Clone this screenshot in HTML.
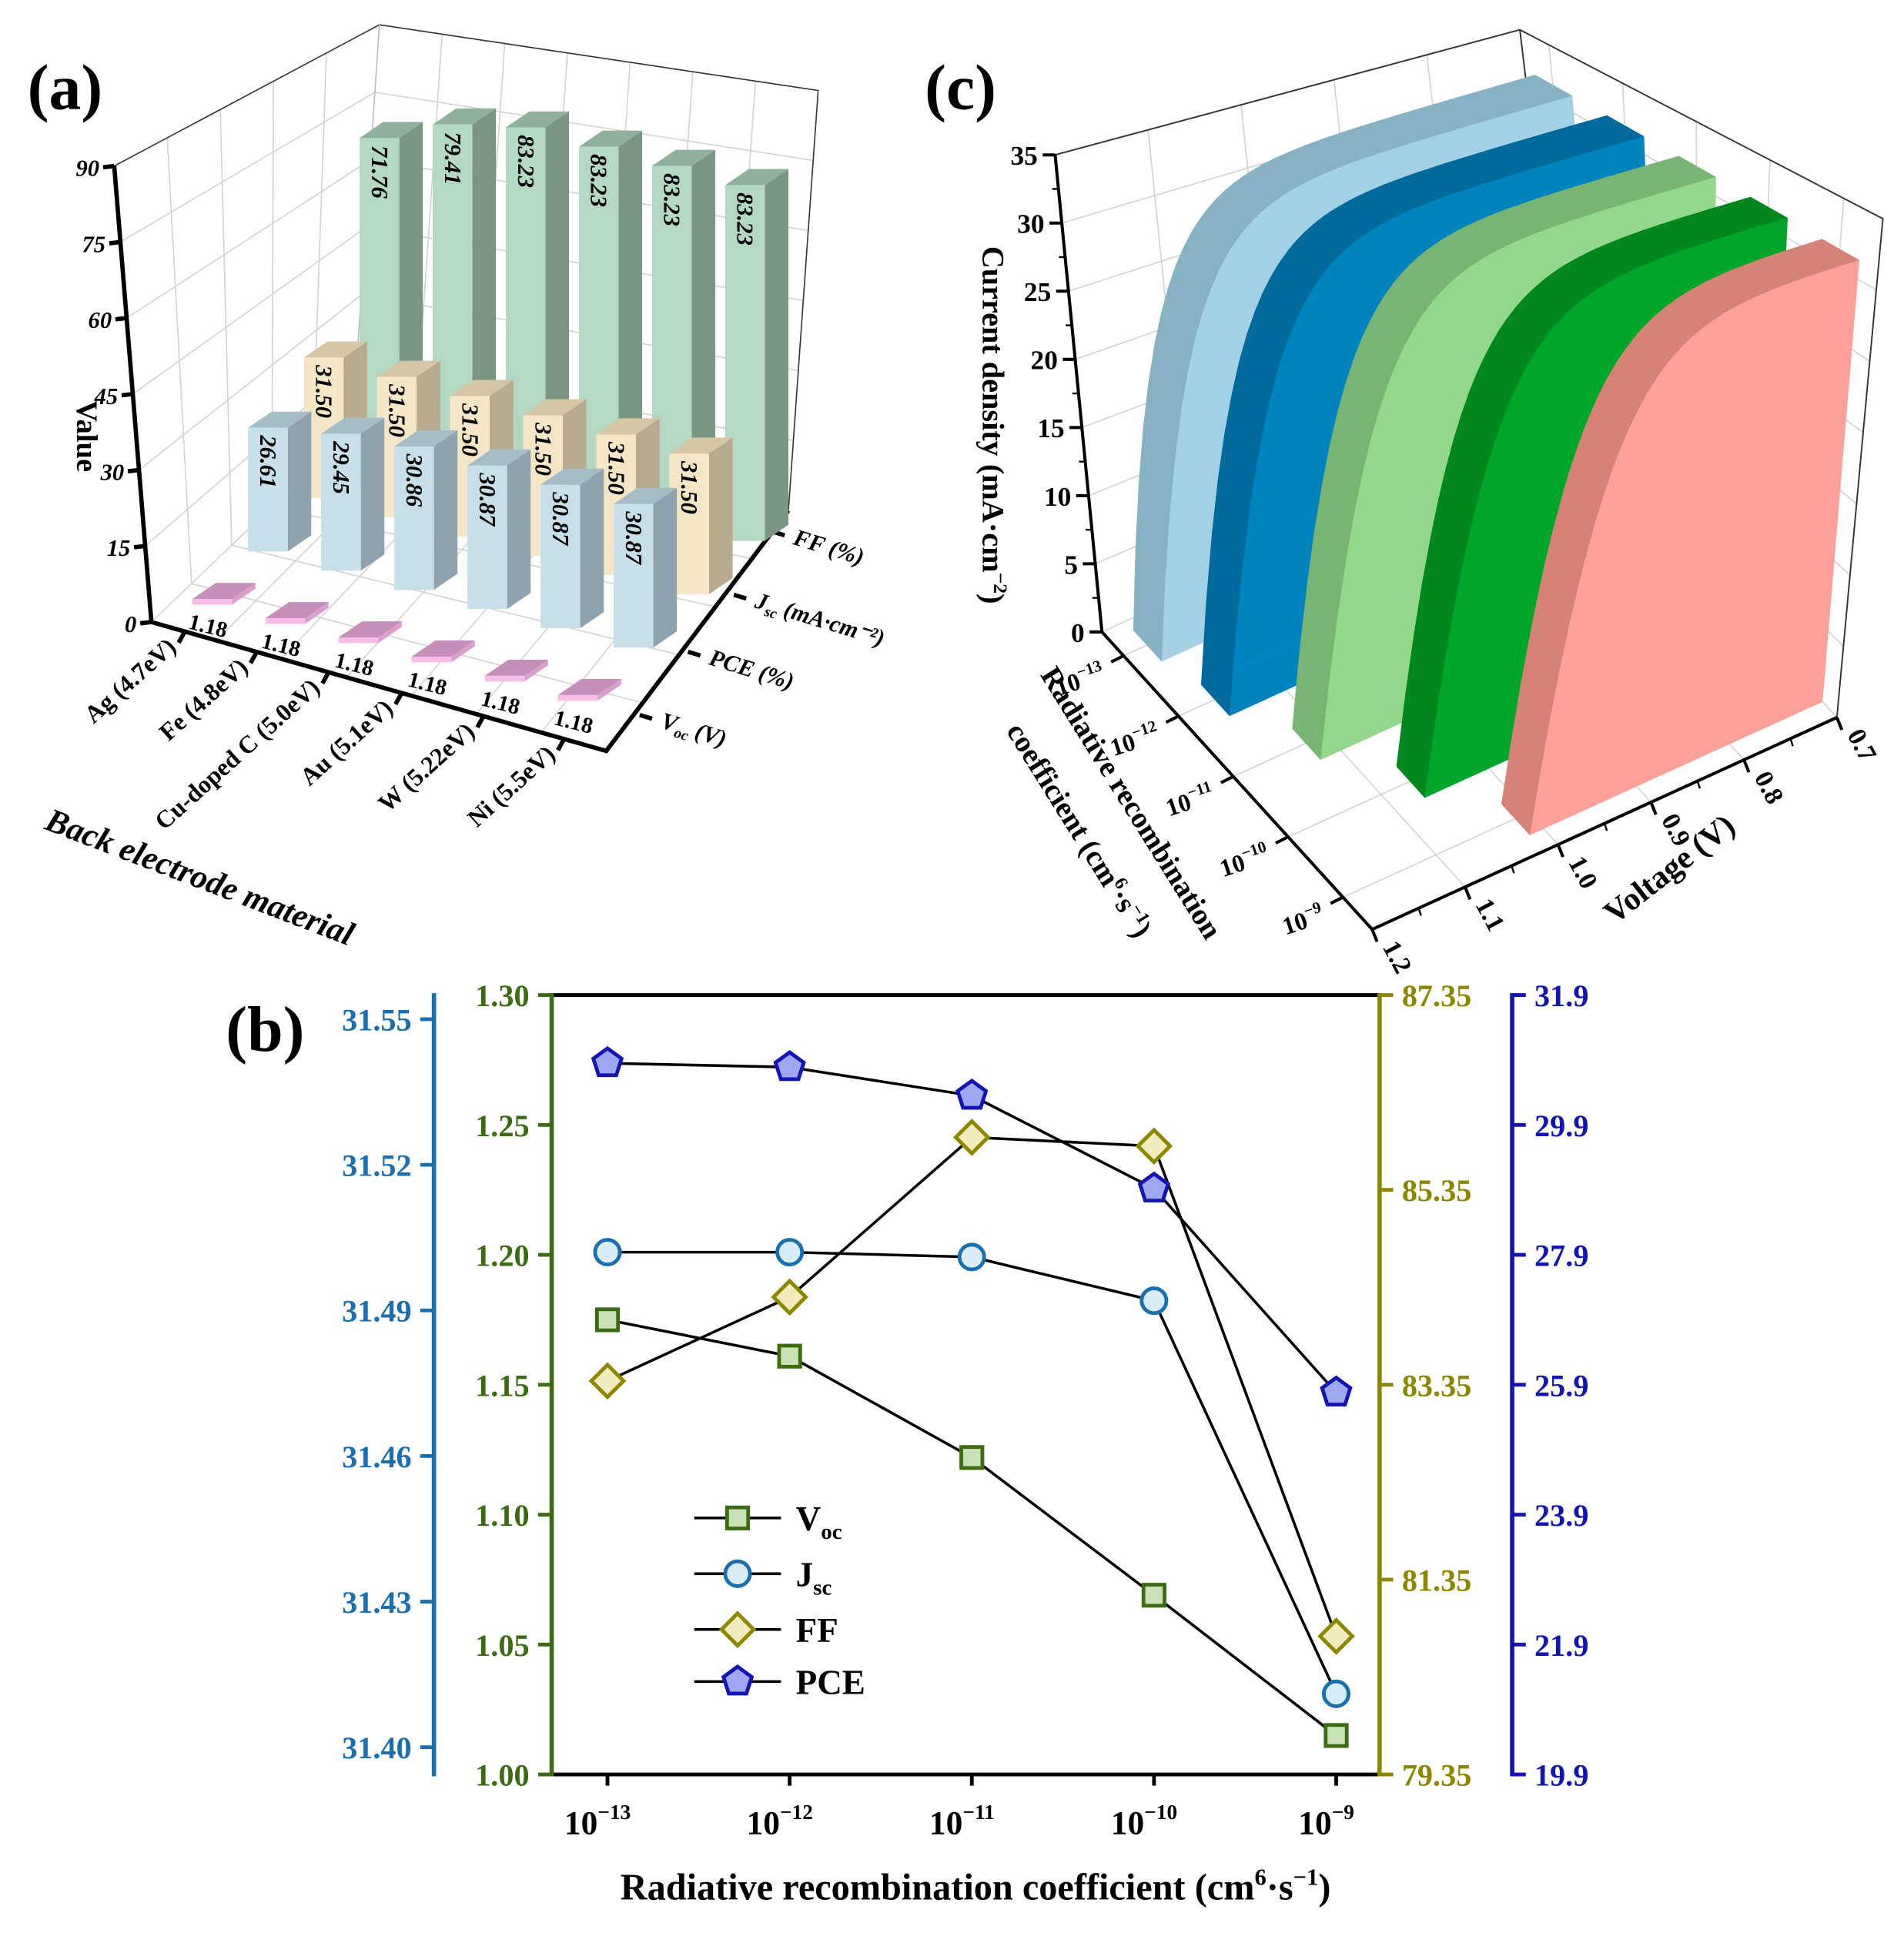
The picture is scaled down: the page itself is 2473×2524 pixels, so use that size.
<!DOCTYPE html>
<html><head><meta charset="utf-8"><style>
html,body{margin:0;padding:0;background:#fff;}
svg{display:block;font-family:"Liberation Serif",serif;font-weight:bold;}
</style></head><body>
<svg id="root" xmlns="http://www.w3.org/2000/svg" width="2473" height="2524" viewBox="0 0 1536 1568">
<rect width="1536" height="1568" fill="#fff"/>
<g id="pa"></g>
<g id="pc"></g>
<g id="pb"></g>
</svg>
<script>
// ===== Panel (a) data =====
const catsA = ["Ag (4.7eV)","Fe (4.8eV)","Cu-doped C (5.0eV)","Au (5.1eV)","W (5.22eV)","Ni (5.5eV)"];
const vocA = [1.18,1.18,1.18,1.18,1.18,1.18];
const pceA = [26.61,29.45,30.86,30.87,30.87,30.87];
const jscA = [31.50,31.50,31.50,31.50,31.50,31.50];
const ffA = [71.76,79.41,83.23,83.23,83.23,83.23];
const valTicksA = [0,15,30,45,60,75,90];
// ===== Panel (b) data =====
const coefLabels = ["\u221213","\u221212","\u221211","\u221210","\u22129"];
const vocB = [1.175,1.161,1.122,1.069,1.015];
const jscB = [31.502,31.502,31.501,31.492,31.411];
const ffB = [83.39,84.25,85.89,85.80,80.77];
const pceB = [30.85,30.79,30.35,28.92,25.78];
const ticksG = [1.00,1.05,1.10,1.15,1.20,1.25,1.30];
const ticksB = [31.40,31.43,31.46,31.49,31.52,31.55];
const ticksO = [79.35,81.35,83.35,85.35,87.35];
const ticksP = [19.9,21.9,23.9,25.9,27.9,29.9,31.9];
// ===== Panel (c) data =====
const slabVoc = [1.175,1.161,1.122,1.069,1.015];
const slabJsc = [31.5,31.5,31.5,31.49,31.41];
const slabKnee = [0.05,0.05,0.05,0.05,0.05];
const curTicksC = [0,5,10,15,20,25,30,35];
const voltTicksC = [1.2,1.1,1.0,0.9,0.8,0.7];

const NS="http://www.w3.org/2000/svg";
function mk(parent,tag,attrs,text){const e=document.createElementNS(NS,tag);for(const k in attrs)e.setAttribute(k,attrs[k]);if(text!==undefined)e.textContent=text;parent.appendChild(e);return e;}
function pts(a){return a.map(p=>p[0].toFixed(1)+","+p[1].toFixed(1)).join(" ");}
function lerp(a,b,t){return [a[0]+(b[0]-a[0])*t,a[1]+(b[1]-a[1])*t];}

// ================= PANEL A =================
(function(){
const g=document.getElementById('pa');
let t=mk(g,'text',{x:22,y:88,'font-size':52});t.textContent='(a)';

const A0=[122,502],A1=[92,134],B0=[284,347],B1=[306,20],R0=[636,412],R1=[660,73],F0=[489,606];
const grid=mk(g,'g',{stroke:'#d2d2d2','stroke-width':1,fill:'none'});

valTicksA.forEach(v=>{const f=v/90;const a=lerp(A0,A1,f),b=lerp(B0,B1,f),r=lerp(R0,R1,f);
 mk(grid,'polyline',{points:pts([a,b,r])});});
for(let k=1;k<5;k++){const f=k/5;mk(grid,'line',{x1:lerp(A0,B0,f)[0],y1:lerp(A0,B0,f)[1],x2:lerp(A1,B1,f)[0],y2:lerp(A1,B1,f)[1]});}
for(let k=1;k<7;k++){const f=k/7;const p=lerp(B0,R0,f),q=lerp(B1,R1,f);mk(grid,'line',{x1:p[0],y1:p[1],x2:q[0],y2:q[1]});
 const fp=lerp(A0,F0,f);mk(grid,'line',{x1:fp[0],y1:fp[1],x2:p[0],y2:p[1]});}
for(let k=1;k<5;k++){const f=k/5;const p=lerp(A0,B0,f),q=lerp(F0,R0,f);mk(grid,'line',{x1:p[0],y1:p[1],x2:q[0],y2:q[1]});}
const frame=mk(g,'g',{stroke:'#333','stroke-width':1,fill:'none'});
mk(frame,'polyline',{points:pts([A1,B1,R1,R0])});mk(frame,'line',{x1:B1[0],y1:B1[1],x2:B0[0],y2:B0[1],stroke:'#bbb'});
const ax=mk(g,'g',{stroke:'#000','stroke-width':3.5,fill:'none'});

mk(ax,'polyline',{points:pts([A1,A0,F0,R0])});
valTicksA.forEach(v=>{const p=lerp(A0,A1,v/90);mk(ax,'line',{x1:p[0],y1:p[1],x2:p[0]-9,y2:p[1]+1});
 const tx=mk(g,'text',{x:p[0]-12,y:p[1]+8,'font-size':19,'font-style':'italic','text-anchor':'end'},String(v));
 });
let yt=mk(g,'text',{transform:'translate(62,352) rotate(90)','font-size':24,'text-anchor':'middle'},'Value');

const series=[vocA,pceA,jscA,ffA];
const cols=[{f:'#f8bde8',s:'#d9a0cc',t:'#c58fba'},{f:'#c6dfe9',s:'#8fa3ae',t:'#a6bcc7'},{f:'#f5e6c6',s:'#b8aa8c',t:'#d6c7a4'},{f:'#b3d9c3',s:'#7a9683',t:'#8fb09c'}];
function base(i,j){return [155+59*i+45*j,488+15.5*i-43*j];}
const W=32,D=[19,-13];
for(let j=3;j>=0;j--){const h=3.9-0.15*j;
 for(let i=0;i<6;i++){const v=series[j][i];const b=base(i,j);const H=Math.max(v*h,4);const c=cols[j];
  const bg=mk(g,'g',{});
  const fl=b,fr=[b[0]+W,b[1]],tl=[b[0],b[1]-H],tr=[b[0]+W,b[1]-H];
  mk(bg,'polygon',{points:pts([fr,[fr[0]+D[0],fr[1]+D[1]],[tr[0]+D[0],tr[1]+D[1]],tr]),fill:c.s});
  mk(bg,'polygon',{points:pts([tl,tr,[tr[0]+D[0],tr[1]+D[1]],[tl[0]+D[0],tl[1]+D[1]]]),fill:c.t});
  mk(bg,'polygon',{points:pts([fl,fr,tr,tl]),fill:c.f});
  if(j>0){const lb=mk(g,'text',{transform:`translate(${b[0]+W/2},${b[1]-H+6}) rotate(90)`,'font-size':19,'font-style':'italic','dominant-baseline':'central'},v.toFixed(2));
   }
  else{const lb=mk(g,'text',{transform:`translate(${b[0]-4},${b[1]+19}) rotate(14)`,'font-size':18},v.toFixed(2));
   }
 }}
const catX=[149,207,265,324,390,455];
catX.forEach((x,i)=>{const f=(x-A0[0])/(F0[0]-A0[0]);const p=lerp(A0,F0,f);
 mk(ax,'line',{x1:p[0],y1:p[1],x2:p[0]-5,y2:p[1]+9});
 const tx=mk(g,'text',{transform:`translate(${p[0]-6},${p[1]+14}) rotate(-42)`,'font-size':20,'text-anchor':'end'},catsA[i]);
 });
const serP=[[516,577],[555,526],[592,480],[623,429]];
const serNames=[['V','oc',' (V)'],['PCE (%)','',''],['J','sc',' (mA\u00b7cm\u207b\u00b2)'],['FF (%)','','']];
serP.forEach((p,i)=>{mk(ax,'line',{x1:p[0],y1:p[1],x2:p[0]+10,y2:p[1]+3});
 const tx=mk(g,'text',{transform:`translate(${p[0]+16},${p[1]+10}) rotate(17)`,'font-size':19,'font-style':'italic'});
 
 mk(tx,'tspan',{},serNames[i][0]);if(serNames[i][1]){mk(tx,'tspan',{'font-size':12,dy:4},serNames[i][1]);mk(tx,'tspan',{dy:-4},serNames[i][2]);}});
const xt=mk(g,'text',{transform:'translate(158,716) rotate(21)','font-size':27,'font-style':'italic','text-anchor':'middle'},'Back electrode material');

})();

// ================= PANEL C =================
(function(){
const g=document.getElementById('pc');
let t=mk(g,'text',{x:746,y:88,'font-size':52},'(c)');

function P(tc,tv,J){return [889+218*tc+375*tv+J*(-1.08+2.14*tc),510+240*tc-171*tv-J*(11+2.5*tc-2*tv)];}
function tvOf(V){return (1.2-V)/0.5;}
const grid=mk(g,'g',{stroke:'#d2d2d2','stroke-width':1,fill:'none'});

curTicksC.forEach(J=>{mk(grid,'polyline',{points:pts([P(0,0,J),P(0,1,J),P(1,1,J)])});});
for(let k=1;k<6;k++){const tv=k/5;mk(grid,'line',{x1:P(0,tv,0)[0],y1:P(0,tv,0)[1],x2:P(0,tv,35)[0],y2:P(0,tv,35)[1]});
 mk(grid,'line',{x1:P(0,tv,0)[0],y1:P(0,tv,0)[1],x2:P(1,tv,0)[0],y2:P(1,tv,0)[1]});}
for(let k=0;k<5;k++){const tc=0.08+0.203*k;mk(grid,'line',{x1:P(tc,0,0)[0],y1:P(tc,0,0)[1],x2:P(tc,1,0)[0],y2:P(tc,1,0)[1]});
 mk(grid,'line',{x1:P(tc,1,0)[0],y1:P(tc,1,0)[1],x2:P(tc,1,35)[0],y2:P(tc,1,35)[1]});}
const fr=mk(g,'g',{stroke:'#333','stroke-width':1.2,fill:'none'});
mk(fr,'polyline',{points:pts([P(0,0,35),P(0,1,35),P(1,1,35),P(1,1,0)])});
mk(fr,'line',{x1:P(0,1,0)[0],y1:P(0,1,0)[1],x2:P(0,1,35)[0],y2:P(0,1,35)[1]});
const cols=[{b:'#86b2c4',f:'#a3d3e8'},{b:'#006a9c',f:'#0086c2'},{b:'#78b472',f:'#93d98c'},{b:'#00881f',f:'#00a82b'},{b:'#d58277',f:'#ffa29a'}];
for(let k=0;k<5;k++){
 const tb=0.03+0.203*k, tf=tb+0.105;const voc=slabVoc[k],jsc=slabJsc[k],a=slabKnee[k];
 const curve=[];for(let s=0;s<=48;s++){const V=0.7+(voc-0.7)*s/48;curve.push([V,Math.max(0,jsc*(1-Math.exp((V-voc)/a)))]);}
 const sg=mk(g,'g',{});
 const back=[P(tb,1,0)].concat(curve.map(c=>P(tb,tvOf(c[0]),c[1])));
 mk(sg,'polygon',{points:pts(back),fill:cols[k].b});
 const band=curve.map(c=>P(tb,tvOf(c[0]),c[1])).concat(curve.slice().reverse().map(c=>P(tf,tvOf(c[0]),c[1])));
 mk(sg,'polygon',{points:pts(band),fill:cols[k].b});
 mk(sg,'polygon',{points:pts([P(tb,1,0),P(tb,1,curve[0][1]),P(tf,1,curve[0][1]),P(tf,1,0)]),fill:cols[k].b});
 mk(sg,'polygon',{points:pts([P(tb,tvOf(voc),0),P(tf,tvOf(voc),0),P(tf,1,0),P(tb,1,0)]),fill:cols[k].b});
 const front=[P(tf,1,0)].concat(curve.map(c=>P(tf,tvOf(c[0]),c[1])));
 mk(sg,'polygon',{points:pts(front),fill:cols[k].f,'fill-opacity':0.95});
}
const ax=mk(g,'g',{stroke:'#000','stroke-width':2.5,fill:'none'});

mk(ax,'polyline',{points:pts([P(0,0,35),P(0,0,0),P(1,0,0),P(1,1,0)])});
curTicksC.forEach(J=>{const p=P(0,0,J);mk(ax,'line',{x1:p[0],y1:p[1],x2:p[0]-10,y2:p[1]});
 if(J<35){const q=P(0,0,J+2.5);mk(ax,'line',{x1:q[0],y1:q[1],x2:q[0]-5,y2:q[1],'stroke-width':1.5});}
 const tx=mk(g,'text',{x:p[0]-14,y:p[1]+8,'font-size':22,'text-anchor':'end'},String(J));
 });
coefLabels.forEach((l,k)=>{const tc=0.08+0.203*k;const p=P(tc,0,0);
 mk(ax,'line',{x1:p[0],y1:p[1],x2:p[0]-10,y2:p[1]+5});
 const tx=mk(g,'text',{transform:`translate(${p[0]-14},${p[1]+20}) rotate(-18)`,'font-size':20,'text-anchor':'end'});
 
 mk(tx,'tspan',{},'10');mk(tx,'tspan',{'font-size':13,dy:-9},l);});
voltTicksC.forEach(V=>{const tv=tvOf(V);const p=P(1,tv,0);mk(ax,'line',{x1:p[0],y1:p[1],x2:p[0]+4,y2:p[1]+10});
 if(V>0.7){const q=P(1,tv+0.1,0);mk(ax,'line',{x1:q[0],y1:q[1],x2:q[0]+2,y2:q[1]+6,'stroke-width':1.5});}
 const tx=mk(g,'text',{transform:`translate(${p[0]+8},${p[1]+14}) rotate(62)`,'font-size':21},V.toFixed(1));
 });
let tt=mk(g,'text',{transform:'translate(793,343) rotate(90)','font-size':25,'text-anchor':'middle'});

mk(tt,'tspan',{},'Current density (mA\u00b7cm');mk(tt,'tspan',{'font-size':16,dy:-9},'\u22122');mk(tt,'tspan',{dy:9},')');
tt=mk(g,'text',{transform:'translate(906,652) rotate(58)','font-size':24,'text-anchor':'middle'},'Radiative recombination');

tt=mk(g,'text',{transform:'translate(864,674) rotate(58)','font-size':24,'text-anchor':'middle'});

mk(tt,'tspan',{},'coefficient (cm');mk(tt,'tspan',{'font-size':15,dy:-9},'6');mk(tt,'tspan',{dy:9},'\u00b7s');mk(tt,'tspan',{'font-size':15,dy:-9},'\u22121');mk(tt,'tspan',{dy:9},')');
tt=mk(g,'text',{transform:'translate(1352,708) rotate(-38)','font-size':26,'text-anchor':'middle'},'Voltage (V)');

})();

// ================= PANEL B =================
(function(){
const g=document.getElementById('pb');
let t=mk(g,'text',{x:182,y:848,'font-size':52},'(b)');

const L=445,R=1113,T=803,B=1432;
const xs=k=>490+147*k;
const yG=v=>B-(v-1.0)/0.3*(B-T);
const yB=v=>1410-(v-31.40)/0.03*117.5;
const yO=v=>B-(v-79.35)/8*(B-T);
const yP=v=>B-(v-19.9)/12*(B-T);
const cG='#3d6b12',cB='#1a6fb0',cO='#8b8700',cP='#1414b4';
mk(g,'line',{x1:L,y1:T,x2:R,y2:T,stroke:'#000','stroke-width':3});
mk(g,'line',{x1:L,y1:B,x2:R,y2:B,stroke:'#000','stroke-width':3});
function axis(x,color,ticks,yf,side,fmt,name){
 const ag=mk(g,'g',{});
 mk(ag,'line',{x1:x,y1:T-1.5,x2:x,y2:B+1.5,stroke:color,'stroke-width':3.5});
 ticks.forEach(v=>{const y=yf(v);mk(ag,'line',{x1:x,y1:y,x2:x+side*11,y2:y,stroke:color,'stroke-width':3});
  const tx=mk(ag,'text',{x:x+side*18,y:y+9,'font-size':25,fill:color,'text-anchor':side<0?'end':'start'},v.toFixed(fmt));
  });
}
axis(350,cB,ticksB,yB,-1,2,'jsc-axis');
axis(L,cG,ticksG,yG,-1,2,'voc-axis');
axis(R,cO,ticksO,yO,1,2,'ff-axis');
axis(1220,cP,ticksP,yP,1,1,'pce-axis');
coefLabels.forEach((l,k)=>{mk(g,'line',{x1:xs(k),y1:B,x2:xs(k),y2:B+9,stroke:'#000','stroke-width':3});
 const tx=mk(g,'text',{x:xs(k)-8,y:B+48,'font-size':27,'text-anchor':'middle'});
 
 mk(tx,'tspan',{},'10');mk(tx,'tspan',{'font-size':17,dy:-12},l);});
const tt=mk(g,'text',{x:787,y:1533,'font-size':30,'text-anchor':'middle'});

mk(tt,'tspan',{},'Radiative recombination coefficient (cm');mk(tt,'tspan',{'font-size':19,dy:-12},'6');mk(tt,'tspan',{dy:12},'\u00b7s');mk(tt,'tspan',{'font-size':19,dy:-12},'\u22121');mk(tt,'tspan',{dy:12},')');
function marker(par,type,x,y,stroke,fill){
 if(type==='sq')return mk(par,'rect',{x:x-8.5,y:y-8.5,width:17,height:17,fill:fill,stroke:stroke,'stroke-width':3});
 if(type==='ci')return mk(par,'circle',{cx:x,cy:y,r:10,fill:fill,stroke:stroke,'stroke-width':3});
 if(type==='di')return mk(par,'polygon',{points:pts([[x,y-13],[x+13,y],[x,y+13],[x-13,y]]),fill:fill,stroke:stroke,'stroke-width':3});
 const p=[];for(let i=0;i<5;i++){const a=-Math.PI/2+i*2*Math.PI/5;p.push([x+12*Math.cos(a),y+12*Math.sin(a)]);}
 return mk(par,'polygon',{points:pts(p),fill:fill,stroke:stroke,'stroke-width':3});
}
const ser=[{d:vocB,y:yG,t:'sq',s:cG,f:'#c8e2b5',n:'voc'},{d:jscB,y:yB,t:'ci',s:cB,f:'#d8edf8',n:'jsc'},{d:ffB,y:yO,t:'di',s:cO,f:'#f1ebbd',n:'ff'},{d:pceB,y:yP,t:'pe',s:cP,f:'#9ea8f2',n:'pce'}];
ser.forEach(sr=>{const sg=mk(g,'g',{});
 mk(sg,'polyline',{points:pts(sr.d.map((v,k)=>[xs(k),sr.y(v)])),fill:'none',stroke:'#000','stroke-width':2.2});});
ser.forEach(sr=>{sr.d.forEach((v,k)=>{const m=marker(g,sr.t,xs(k),sr.y(v),sr.s,sr.f);
 });});
const leg=[['V','oc'],['J','sc'],['FF',''],['PCE','']];const ly=[1225,1270,1315,1357];
ser.forEach((sr,i)=>{const lg=mk(g,'g',{});
 mk(lg,'line',{x1:560,y1:ly[i],x2:630,y2:ly[i],stroke:'#000','stroke-width':2.2});marker(lg,sr.t,595,ly[i],sr.s,sr.f);
 const tx=mk(lg,'text',{x:642,y:ly[i]+10,'font-size':28});mk(tx,'tspan',{},leg[i][0]);if(leg[i][1])mk(tx,'tspan',{'font-size':18,dy:7},leg[i][1]);});
})();
</script>
</body></html>
